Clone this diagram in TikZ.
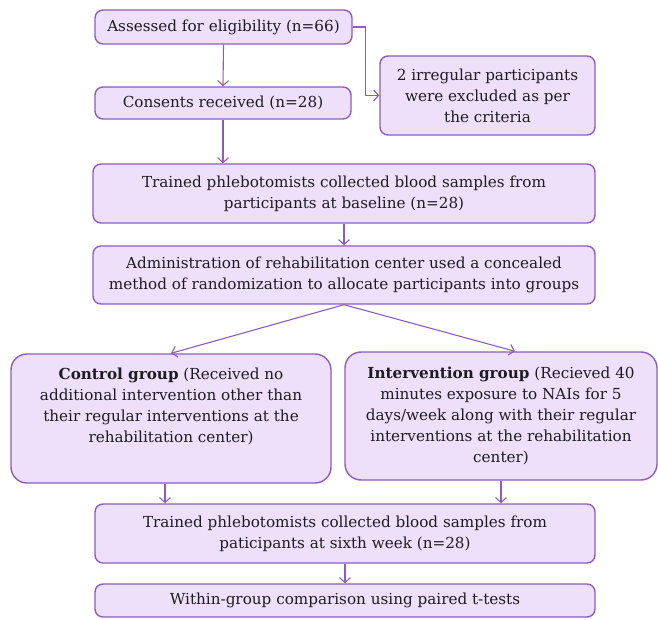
\documentclass[tikz,border=0pt]{standalone}
\usepackage{fontspec}
\setmainfont{DejaVu Serif}
\usetikzlibrary{arrows.meta}
\definecolor{boxfill}{RGB}{238,224,250}
\definecolor{boxline}{RGB}{140,92,190}
\definecolor{txt}{RGB}{30,28,34}
\begin{document}
\begin{tikzpicture}[x=1pt,y=1pt,
  box/.style={draw=boxline, fill=boxfill, line width=1.4pt, rounded corners=8pt, align=center, inner sep=0pt, font=\fontsize{15.2}{21}\selectfont, text=txt},
  bigbox/.style={box, rounded corners=16pt},
  lbl/.style={align=center, inner sep=0pt, font=\fontsize{15.2}{21}\selectfont, text=txt},
  arr/.style={draw=boxline, line width=1.1pt, -{Straight Barb[length=5pt,width=11pt]}}]
\useasboundingbox (0,0) rectangle (658,619);
\node[box, minimum width=257, minimum height=34] (b1) at (223.5,592) {Assessed for eligibility (n=66)};
\node[box, minimum width=256, minimum height=32] (b2) at (223,516) {Consents received (n=28)};
\node[box, minimum width=215, minimum height=79] (ex) at (487.5,523.5) {2 irregular participants\\were excluded as per\\the criteria};
\node[box, minimum width=502, minimum height=59] (b3) at (344,425.5) {Trained phlebotomists collected blood samples from\\participants at baseline (n=28)};
\node[box, minimum width=502, minimum height=58] (b4) at (344,344) {Administration of rehabilitation center used a concealed\\method of randomization to allocate participants into groups};
\node[bigbox, minimum width=320, minimum height=129] (ctl) at (171,200.5) {};
\node[lbl, anchor=north] (ctltxt) at ([yshift=-14]ctl.north) {\textbf{Control group} (Received no\\additional intervention other than\\their regular interventions at the\\rehabilitation center)};
\node[bigbox, minimum width=312, minimum height=128] (int) at (501,203) {\textbf{Intervention group} (Recieved 40\\minutes exposure to NAIs for 5\\days/week along with their regular\\interventions at the rehabilitation\\center)};
\node[box, minimum width=500, minimum height=59] (b5) at (345,85.5) {Trained phlebotomists collected blood samples from\\paticipants at sixth week (n=28)};
\node[box, minimum width=500, minimum height=33] (b6) at (345,18.5) {Within-group comparison using paired t-tests};
\draw[arr] (b1.south) -- (b2.north);
\draw[arr] (b1.east) -- ++(13,0) |- (ex.west);
\draw[arr] (b2.south) -- (b2.south |- b3.north);
\draw[arr] (b3.south) -- (b4.north);
\draw[arr] (b4.south) -- (ctl.north);
\draw[arr] (b4.south) -- ([xshift=14]int.north);
\draw[arr] ([xshift=-6]ctl.south) -- ([xshift=-6]ctl.south |- b5.north);
\draw[arr] (int.south) -- (int.south |- b5.north);
\draw[arr] (b5.south) -- (b6.north);
\end{tikzpicture}
\end{document}
